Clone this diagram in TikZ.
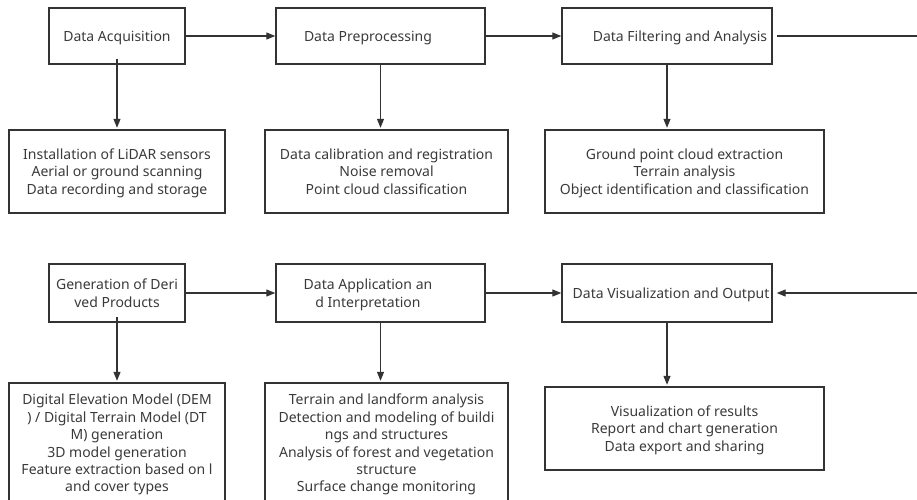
\documentclass[tikz,border=0pt]{standalone}
\usepackage{fontspec}
\setmainfont{Noto Sans}
\usetikzlibrary{arrows.meta}
\definecolor{ink}{HTML}{333333}
\definecolor{txt}{HTML}{3A3A3A}
\begin{document}
\begin{tikzpicture}[x=1pt, y=-1pt,
    >={Triangle[length=9pt, width=7pt]},
    stage/.style={draw=ink, line width=1.4pt, rectangle, inner sep=0pt,
      minimum height=56pt, text=txt, align=center, text depth=-2.5pt,
      font=\fontsize{14}{17.4}\selectfont},
    detail/.style={stage, minimum height=83pt},
    edge/.style={->, draw=ink, line width=1.2pt}]

  \useasboundingbox (0,0) rectangle (917,499);

  % first row
  \node[stage, minimum width=136pt] (acq) at (117,36) {Data Acquisition};
  \node[stage, minimum width=209pt] (pre) at (380.5,36) {Data Preprocessing\hspace*{25pt}};
  \node[stage, minimum width=210pt] (filt) at (667,36) {\hspace*{26pt}Data Filtering and Analysis};

  \node[detail, minimum width=216pt] (acqd) at (117,171.5)
    {Installation of LiDAR sensors\\Aerial or ground scanning\\Data recording and storage};
  \node[detail, minimum width=243pt] (pred) at (386.5,171.5)
    {Data calibration and registration\\Noise removal\\Point cloud classification};
  \node[detail, minimum width=279pt] (filtd) at (684.5,171.5)
    {Ground point cloud extraction\\Terrain analysis\\Object identification and classification};

  % second row
  \node[stage, minimum width=136pt, minimum height=58pt] (der) at (117,293)
    {Generation of Deri\\ved Products};
  \node[stage, minimum width=209pt, minimum height=58pt] (app) at (380.5,293)
    {Data Application an\hspace*{25pt}\\d Interpretation\hspace*{25pt}};
  \node[stage, minimum width=210pt, minimum height=58pt] (vis) at (667,293)
    {\hspace*{8pt}Data Visualization and Output};

  \node[detail, minimum width=216pt, minimum height=120pt] (derd) at (117,443)
    {Digital Elevation Model (DEM\\) / Digital Terrain Model (DT\\M) generation\\3D model generation\\Feature extraction based on l\\and cover types};
  \node[detail, minimum width=243pt, minimum height=120pt] (appd) at (386.5,443)
    {Terrain and landform analysis\\Detection and modeling of buildi\\ngs and structures\\Analysis of forest and vegetation\\structure\\Surface change monitoring};
  \node[detail, minimum width=279pt] (visd) at (684.5,428.5)
    {Visualization of results\\Report and chart generation\\Data export and sharing};

  \coordinate (turn) at (945,0);

  \draw[edge] (acq) -- (pre);
  \draw[edge] (pre) -- (filt);
  \draw[edge, shorten <=-6pt, shorten >=1.5pt] (acq.south) -- (acq |- acqd.north);
  \draw[edge, shorten >=1.5pt] (pre.south) -- (pre |- pred.north);
  \draw[edge, shorten >=1.5pt] (filt.south) -- (filt |- filtd.north);

  \draw[edge] (der) -- (app);
  \draw[edge] (app) -- (vis);
  \draw[edge, shorten <=-6pt, shorten >=1.5pt] (der.south) -- (der |- derd.north);
  \draw[edge, shorten >=1.5pt] (app.south) -- (app |- appd.north);
  \draw[edge, shorten >=1.5pt] (vis.south) -- (vis |- visd.north);

  \draw[edge, shorten <=4pt, shorten >=4pt] (filt.east) -- (filt.east -| turn) |- (vis.east);
\end{tikzpicture}
\end{document}
